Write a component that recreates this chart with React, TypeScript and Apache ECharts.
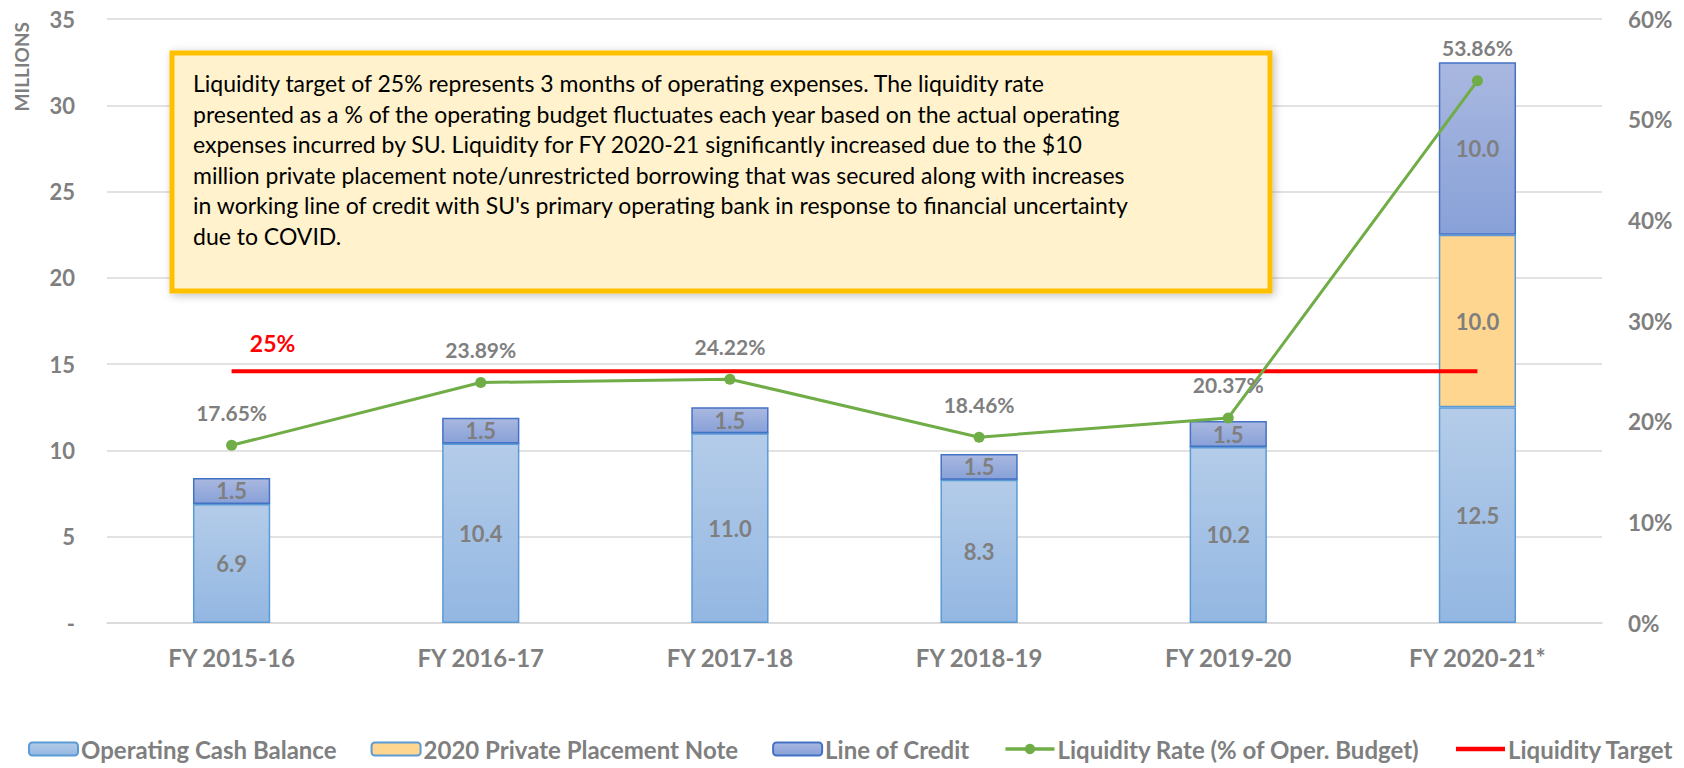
import React, { useEffect, useRef } from "react";
import * as echarts from "echarts";

const categories = ["FY 2015-16", "FY 2016-17", "FY 2017-18", "FY 2018-19", "FY 2019-20", "FY 2020-21*"];
const operatingCash = [6.9, 10.4, 11.0, 8.3, 10.2, 12.5];
const privatePlacement = [0, 0, 0, 0, 0, 10.0];
const lineOfCredit = [1.5, 1.5, 1.5, 1.5, 1.5, 10.0];
const liquidityRate = [17.65, 23.89, 24.22, 18.46, 20.37, 53.86];
const liquidityTarget = [25, 25, 25, 25, 25, 25];
const targetLabel = "25%";
const leftAxis = { min: 0, max: 35, interval: 5, name: "MILLIONS" };
const rightAxis = { min: 0, max: 60, interval: 10 };
const seriesNames = [
  "Operating Cash Balance",
  "2020 Private Placement Note",
  "Line of Credit",
  "Liquidity Rate (% of Oper. Budget)",
  "Liquidity Target",
];
const noteLines = [
  "Liquidity target of 25% represents 3 months of operating expenses. The liquidity rate",
  "presented as a % of the operating budget fluctuates each year based on the actual operating",
  "expenses incurred by SU. Liquidity for FY 2020-21 significantly increased due to the $10",
  "million private placement note/unrestricted borrowing that was secured along with increases",
  "in working line of credit with SU's primary operating bank in response to financial uncertainty",
  "due to COVID.",
];

const FONT = "Lato, 'Open Sans', sans-serif";
const GRAY = "#7f7f7f";

function grad(top: string, bottom: string) {
  return new echarts.graphic.LinearGradient(0, 0, 0, 1, [
    { offset: 0, color: top },
    { offset: 1, color: bottom },
  ]);
}

export default function App() {
  const ref = useRef<HTMLDivElement>(null);
  useEffect(() => {
    document.body.style.margin = "0";
    if (!ref.current) return;
    const chart = echarts.init(ref.current, undefined, { renderer: "svg" });
    const barLabel = {
      show: true,
      position: "inside",
      color: GRAY,
      fontFamily: FONT,
      fontWeight: "bold",
      fontSize: 22,
      formatter: (p: any) => (p.value ? Number(p.value).toFixed(1) : ""),
    };
    chart.setOption({
      animation: false,
      textStyle: { fontFamily: FONT },
      grid: { left: 107, right: 82, top: 19, bottom: 145 },
      legend: {
        data: [
          seriesNames[0],
          seriesNames[1],
          seriesNames[2],
          { name: seriesNames[3], lineStyle: { width: 3.5 } },
          { name: seriesNames[4], itemStyle: { opacity: 0 }, lineStyle: { width: 4.5 } },
        ],
        left: 23,
        bottom: 2,
        itemWidth: 49,
        itemHeight: 13,
        itemGap: 34,
        textStyle: { color: GRAY, fontFamily: FONT, fontWeight: "bold", fontSize: 24, padding: [0, 0, 0, -2] },
      },
      xAxis: {
        type: "category",
        data: categories,
        axisLine: { lineStyle: { color: "#d9d9d9", width: 1.5 } },
        axisTick: { show: false },
        axisLabel: { color: GRAY, fontFamily: FONT, fontWeight: "bold", fontSize: 24, margin: 22 },
      },
      yAxis: [
        {
          type: "value",
          min: leftAxis.min,
          max: leftAxis.max,
          interval: leftAxis.interval,
          axisLine: { show: false },
          axisTick: { show: false },
          splitLine: { lineStyle: { color: "#d9d9d9", width: 1.5 } },
          axisLabel: {
            color: GRAY,
            fontFamily: FONT,
            fontWeight: "bold",
            fontSize: 22,
            margin: 32,
            formatter: (v: number) => (v === 0 ? "-" : String(v)),
          },
        },
        {
          type: "value",
          min: rightAxis.min,
          max: rightAxis.max,
          interval: rightAxis.interval,
          axisLine: { show: false },
          axisTick: { show: false },
          splitLine: { show: false },
          axisLabel: {
            color: GRAY,
            fontFamily: FONT,
            fontWeight: "bold",
            fontSize: 22.5,
            margin: 26,
            formatter: "{value}%",
          },
        },
      ],
      series: [
        {
          name: seriesNames[0],
          type: "bar",
          stack: "total",
          barWidth: "31%",
          data: operatingCash,
          itemStyle: { color: grad("#b4cce9", "#93b7e2"), borderColor: "#5b9bd5", borderWidth: 1.5 },
          label: barLabel,
        },
        {
          name: seriesNames[1],
          type: "bar",
          stack: "total",
          data: privatePlacement,
          itemStyle: { color: "#fed68f", borderColor: "#5b9bd5", borderWidth: 1.5 },
          label: barLabel,
        },
        {
          name: seriesNames[2],
          type: "bar",
          stack: "total",
          data: lineOfCredit,
          itemStyle: { color: grad("#a9b8e0", "#88a1d8"), borderColor: "#4472c4", borderWidth: 1.5 },
          label: barLabel,
        },
        {
          name: seriesNames[3],
          type: "line",
          yAxisIndex: 1,
          data: liquidityRate,
          symbol: "circle",
          symbolSize: 11,
          itemStyle: { color: "#70ad47" },
          lineStyle: { color: "#70ad47", width: 3 },
          label: {
            show: true,
            position: "top",
            distance: 17,
            color: GRAY,
            fontFamily: FONT,
            fontWeight: "bold",
            fontSize: 21,
            formatter: (p: any) => Number(p.value).toFixed(2) + "%",
          },
          z: 4,
        },
        {
          name: seriesNames[4],
          type: "line",
          yAxisIndex: 1,
          symbol: "none",
          data: liquidityTarget,
          itemStyle: { color: "#ff0000" },
          lineStyle: { color: "#ff0000", width: 4 },
          markPoint: {
            symbol: "circle",
            symbolSize: 0,
            data: [{ coord: [categories[0], liquidityTarget[0]] }],
            label: {
              show: true,
              position: "top",
              offset: [41, -12],
              formatter: targetLabel,
              color: "#ff0000",
              fontFamily: FONT,
              fontWeight: "bold",
              fontSize: 23,
            },
          },
          z: 3,
        },
      ],
      graphic: [
        {
          type: "text",
          left: 12,
          top: 22,
          rotation: Math.PI / 2,
          style: {
            text: leftAxis.name,
            fill: GRAY,
            font: `bold 19px ${FONT}`,
          },
        },
        {
          type: "rect",
          shape: { x: 172, y: 53, width: 1098, height: 238 },
          style: {
            fill: "#fff2cc",
            stroke: "#ffc000",
            lineWidth: 5,
            shadowBlur: 8,
            shadowColor: "rgba(0,0,0,0.25)",
            shadowOffsetX: 2,
            shadowOffsetY: 2,
          },
          z: 100,
        },
        {
          type: "text",
          x: 193,
          y: 68,
          z: 101,
          style: {
            text: noteLines.join("\n"),
            fill: "#000000",
            font: `23px ${FONT}`,
            lineHeight: 30.5,
          },
        },
      ],
    });
    return () => chart.dispose();
  }, []);
  return <div ref={ref} style={{ width: 1684, height: 768 }} />;
}
